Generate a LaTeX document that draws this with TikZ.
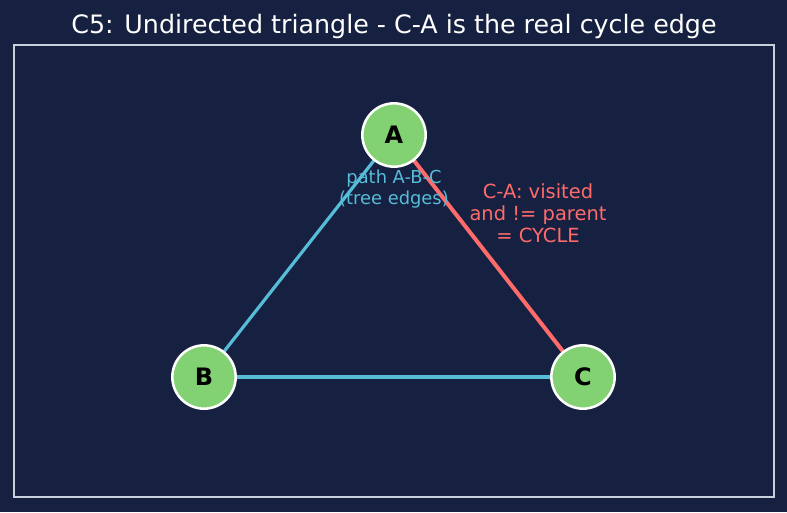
\documentclass[tikz,border=0pt]{standalone}
\usepackage{fontspec}
\setmainfont{DejaVu Sans}
\usepackage{xcolor}
\usepackage{tikz}
\usetikzlibrary{calc}
\definecolor{navy}{HTML}{162040}
\definecolor{frameg}{HTML}{C8D0DC}
\definecolor{leaf}{HTML}{82D173}
\definecolor{treeb}{HTML}{56BCD8}
\definecolor{cycler}{HTML}{FF6B6B}

\begin{document}
\begin{tikzpicture}[x=0.75pt,y=0.75pt,
    vert/.style={circle, fill=leaf, draw=white, line width=1.9pt, minimum size=47.5pt, inner sep=0pt, font=\fontsize{18}{18}\selectfont\bfseries},
    tree/.style={treeb, line width=2.4pt},
    cyc/.style={cycler, line width=3pt}]
    \fill [navy] (0,0) rectangle (787,512);
    \useasboundingbox (0,0) rectangle (787,512);
    \draw [frameg, line width=1pt] (14,15) rectangle (774,467);
    \node (title) [white, font=\fontsize{19}{21}\selectfont] at (394,485) {C5: Undirected triangle - C-A is the real cycle edge};
%    \draw[step=50,gray,very thin] (0,0) grid (787,512);
    \coordinate (pA) at (394,377);
    \coordinate (pB) at (204,135);
    \coordinate (pC) at (583,135);
    \draw [tree] (pB) -- (pA);
    \draw [tree] (pB) -- (pC);
    \draw [cyc] (pC) -- (pA);
    \foreach \v in {A,B,C}
        \node (\v) [vert] at (p\v) {\v};
    \node (treelbl) [treeb, align=center, font=\fontsize{13.4}{15.8}\selectfont] at (394,323) {path A-B-C\\(tree edges)};
    \node (cyclbl) [cycler, align=center, font=\fontsize{14.6}{16.5}\selectfont] at (538,299) {C-A: visited\\and != parent\\= CYCLE};
\end{tikzpicture}
\end{document}
